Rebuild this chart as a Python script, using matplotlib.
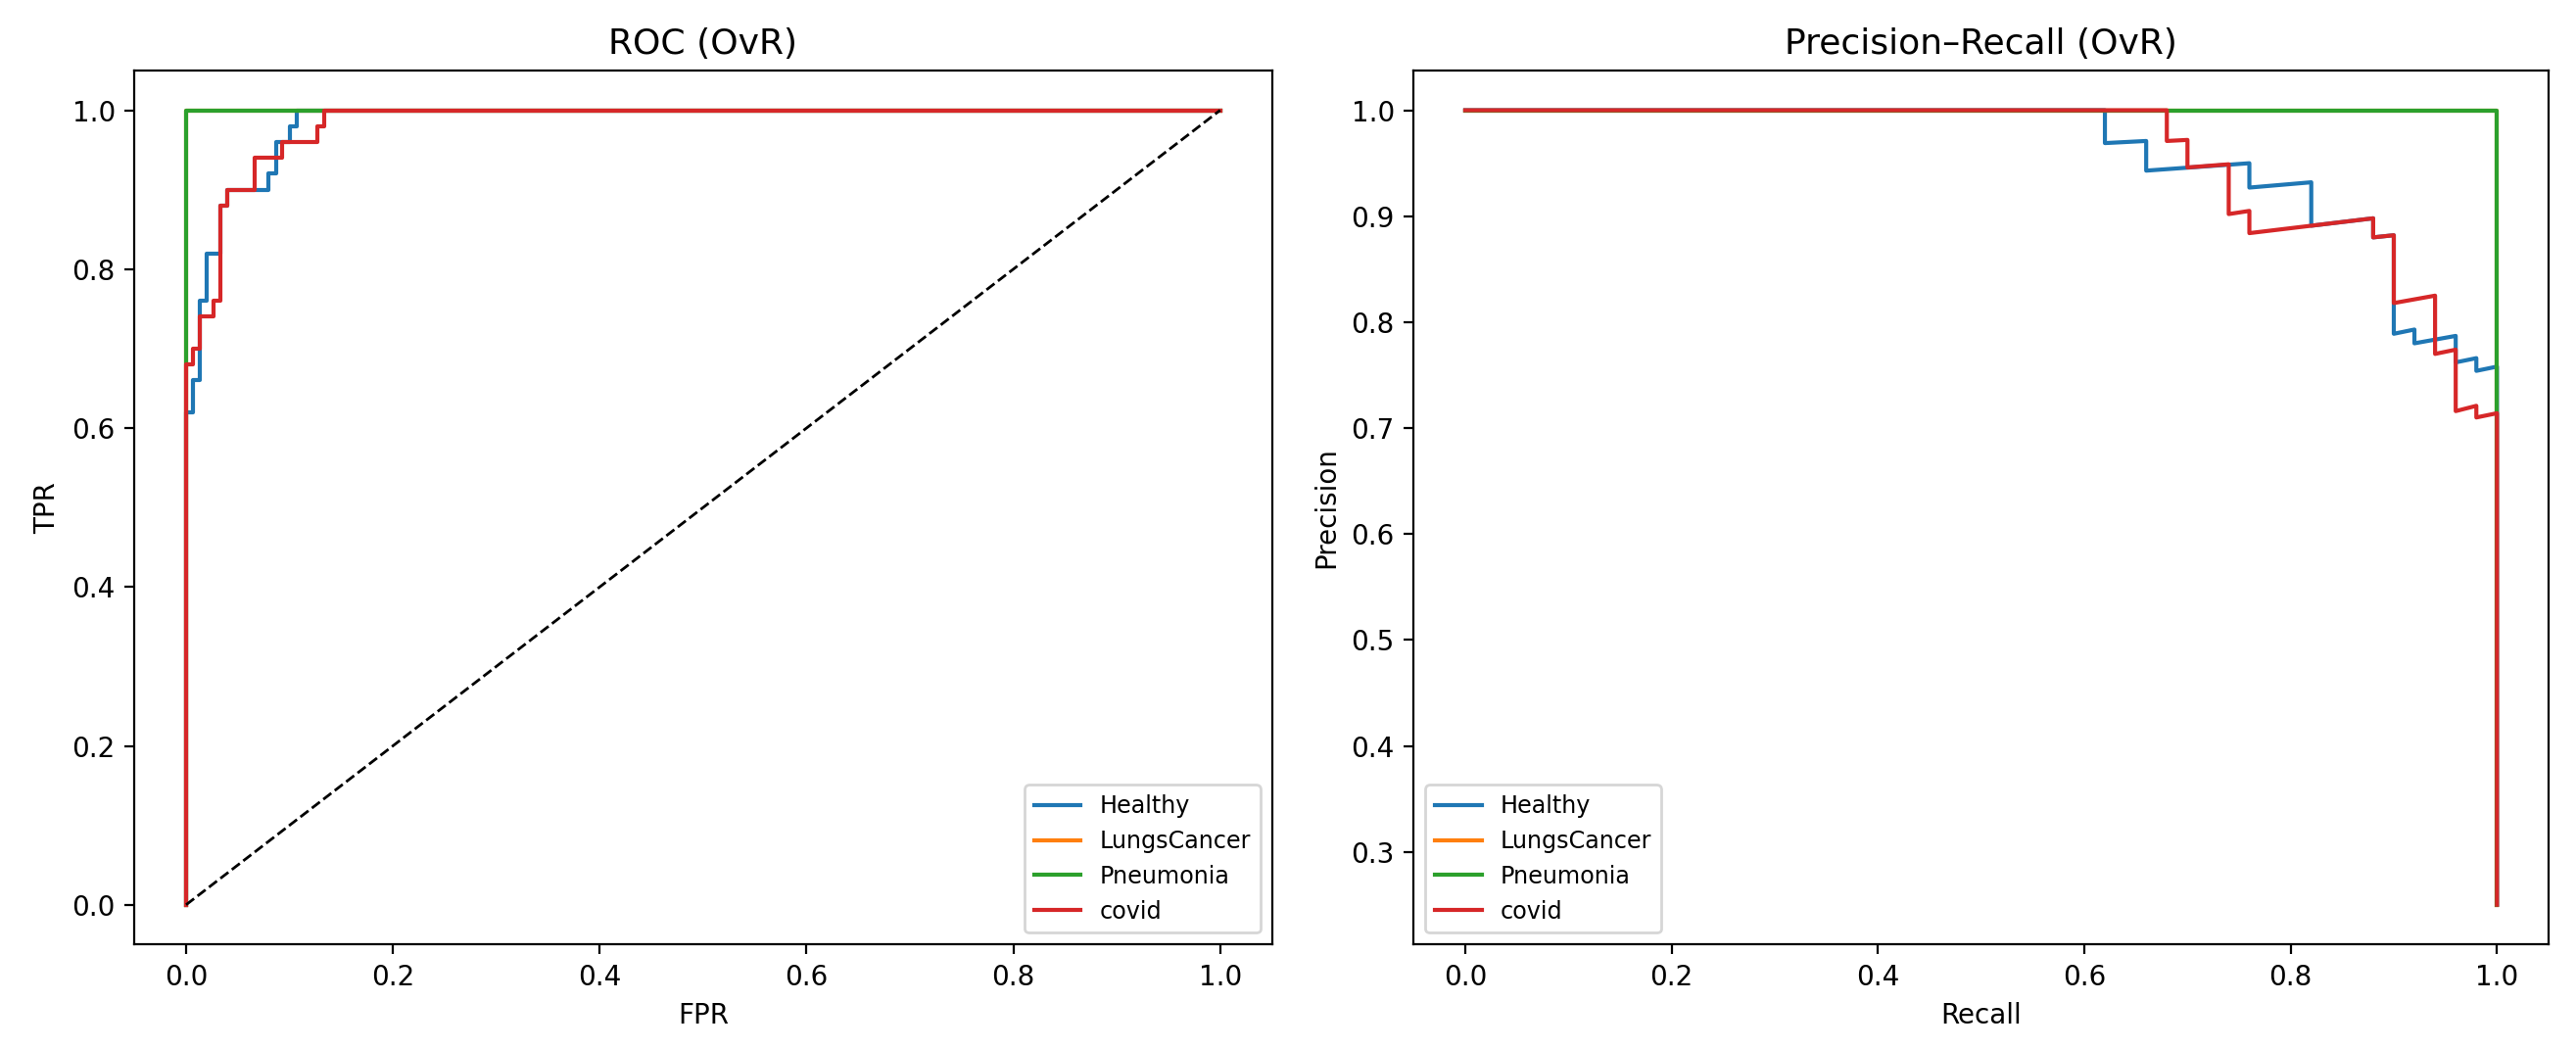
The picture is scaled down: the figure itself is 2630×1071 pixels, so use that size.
import matplotlib
matplotlib.use("Agg")
import matplotlib.pyplot as plt

classes = ["Healthy", "LungsCancer", "Pneumonia", "covid"]
colors = ["#1f77b4", "#ff7f0e", "#2ca02c", "#d62728"]

# ROC step vertices
roc_fpr = {
    "Healthy": [0, 0, 0.0067, 0.0067, 0.0133, 0.0133, 0.02, 0.02, 0.0333, 0.0333,
                0.04, 0.04, 0.08, 0.08, 0.0867, 0.0867, 0.10, 0.10, 0.1067, 0.1067, 1.0],
    "LungsCancer": [0, 0, 1.0],
    "Pneumonia": [0, 0, 1.0],
    "covid": [0, 0, 0.0067, 0.0067, 0.0133, 0.0133, 0.0267, 0.0267, 0.0333, 0.0333,
              0.04, 0.04, 0.0667, 0.0667, 0.0933, 0.0933, 0.1267, 0.1267, 0.1333, 0.1333, 1.0],
}
roc_tpr = {
    "Healthy": [0, 0.62, 0.62, 0.66, 0.66, 0.76, 0.76, 0.82, 0.82, 0.88,
                0.88, 0.90, 0.90, 0.92, 0.92, 0.96, 0.96, 0.98, 0.98, 1.0, 1.0],
    "LungsCancer": [0, 1.0, 1.0],
    "Pneumonia": [0, 1.0, 1.0],
    "covid": [0, 0.68, 0.68, 0.70, 0.70, 0.74, 0.74, 0.76, 0.76, 0.88,
              0.88, 0.90, 0.90, 0.94, 0.94, 0.96, 0.96, 0.98, 0.98, 1.0, 1.0],
}

# Precision-Recall vertices
pr_recall = {
    "Healthy": [0.0, 0.62, 0.62, 0.66, 0.66, 0.76, 0.76, 0.82, 0.82, 0.88, 0.88,
                0.90, 0.90, 0.92, 0.92, 0.96, 0.96, 0.98, 0.98, 1.0, 1.0],
    "LungsCancer": [0.0, 1.0, 1.0],
    "Pneumonia": [0.0, 1.0, 1.0],
    "covid": [0.0, 0.68, 0.68, 0.70, 0.70, 0.74, 0.74, 0.76, 0.76, 0.88, 0.88,
              0.90, 0.90, 0.94, 0.94, 0.96, 0.96, 0.98, 0.98, 1.0, 1.0],
}
pr_precision = {
    "Healthy": [1.0, 1.0, 0.969, 0.971, 0.943, 0.950, 0.927, 0.932, 0.891, 0.898, 0.880,
                0.882, 0.789, 0.793, 0.780, 0.787, 0.762, 0.766, 0.754, 0.758, 0.25],
    "LungsCancer": [1.0, 1.0, 0.25],
    "Pneumonia": [1.0, 1.0, 0.25],
    "covid": [1.0, 1.0, 0.971, 0.972, 0.946, 0.949, 0.902, 0.905, 0.884, 0.898, 0.880,
              0.882, 0.818, 0.825, 0.770, 0.774, 0.716, 0.721, 0.710, 0.714, 0.25],
}

W, H, DPI = 2630, 1071, 200
fig = plt.figure(figsize=(W / DPI, H / DPI), dpi=DPI)
ax1 = fig.add_axes([0.05217, 0.09963, 0.44156, 0.83314])
ax2 = fig.add_axes([0.54878, 0.09963, 0.44057, 0.83314])

for c, col in zip(classes, colors):
    ax1.plot(roc_fpr[c], roc_tpr[c], color=col, lw=1.5, label=c)
ax1.plot([0, 1], [0, 1], "k--", lw=1)
ax1.set_title("ROC (OvR)", fontsize=13)
ax1.set_xlabel("FPR")
ax1.set_ylabel("TPR")
ax1.legend(loc="lower right", fontsize=8.6)

for c, col in zip(classes, colors):
    ax2.plot(pr_recall[c], pr_precision[c], color=col, lw=1.5, label=c)
ax2.set_title("Precision\u2013Recall (OvR)", fontsize=13)
ax2.set_xlabel("Recall")
ax2.set_ylabel("Precision")
ax2.legend(loc="lower left", fontsize=8.6)

fig.savefig("out.png", dpi=DPI)
